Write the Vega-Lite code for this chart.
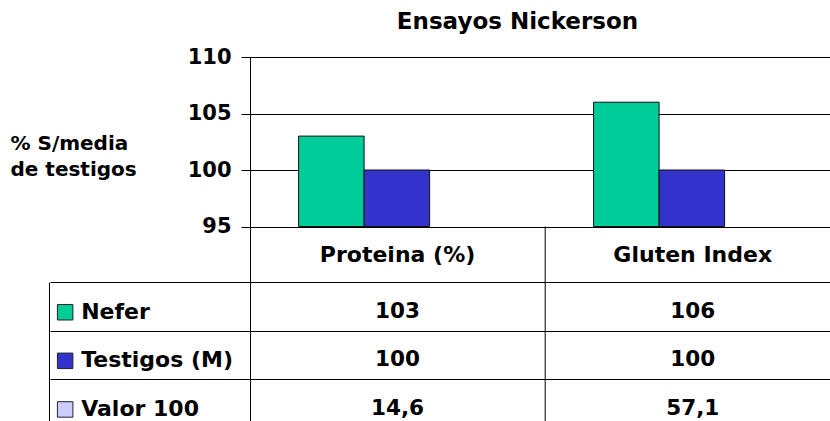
{
  "$schema": "https://vega.github.io/schema/vega-lite/v6.json",
  "width": 580,
  "height": 364,
  "autosize": {"type": "none"},
  "padding": {"left": 250, "top": 57, "right": 0, "bottom": 0},
  "background": "#ffffff",
  "title": {
    "text": "Ensayos Nickerson",
    "font": "DejaVu Sans",
    "fontSize": 23,
    "fontWeight": "bold",
    "color": "#000000",
    "anchor": "middle",
    "frame": "group",
    "dx": -22.5,
    "baseline": "alphabetic",
    "offset": -6
  },
  "config": {
    "view": {"stroke": null},
    "font": "DejaVu Sans",
    "locale": {"number": {"decimal": ",", "thousands": ".", "grouping": [3], "currency": ["", " €"]}}
  },
  "datasets": {
    "valores": [
      {"categoria": "Proteina (%)", "serie": "Nefer", "valor": 103},
      {"categoria": "Proteina (%)", "serie": "Testigos (M)", "valor": 100},
      {"categoria": "Proteina (%)", "serie": "Valor 100", "valor": 14.6},
      {"categoria": "Gluten Index", "serie": "Nefer", "valor": 106},
      {"categoria": "Gluten Index", "serie": "Testigos (M)", "valor": 100},
      {"categoria": "Gluten Index", "serie": "Valor 100", "valor": 57.1}
    ]
  },
  "resolve": {
    "scale": {"x": "independent", "y": "independent"},
    "axis": {"x": "independent", "y": "independent"}
  },
  "layer": [
    {
      "data": {"name": "valores"},
      "transform": [{"filter": "datum.serie !== 'Valor 100'"}],
      "mark": {"type": "bar", "stroke": "#111111", "strokeWidth": 1},
      "encoding": {
        "x": {
          "field": "categoria",
          "type": "nominal",
          "scale": {"domain": ["Proteina (%)", "Gluten Index"], "paddingInner": 0.5559, "paddingOuter": 0.261, "align": 0.3156},
          "axis": null
        },
        "xOffset": {
          "field": "serie",
          "type": "nominal",
          "scale": {"domain": ["Nefer", "Testigos (M)"], "paddingInner": 0, "paddingOuter": 0}
        },
        "y": {
          "field": "valor",
          "type": "quantitative",
          "scale": {"domain": [77.788, 110], "nice": false, "zero": false},
          "axis": {
            "orient": "left",
            "values": [95, 100, 105, 110],
            "grid": true,
            "gridColor": "#000000",
            "gridOpacity": 1,
            "gridWidth": 1,
            "tickSize": 9,
            "tickColor": "#000000",
            "tickWidth": 1,
            "domainColor": "#000000",
            "domainWidth": 1,
            "labelFont": "DejaVu Sans",
            "labelFontWeight": "bold",
            "labelFontSize": 21,
            "labelColor": "#000000",
            "labelPadding": 10,
            "title": ["% S/media", "de testigos"],
            "titleAngle": 0,
            "titleAlign": "left",
            "titleBaseline": "middle",
            "titleFont": "DejaVu Sans",
            "titleFontWeight": "bold",
            "titleFontSize": 20,
            "titleColor": "#000000",
            "titleLineHeight": 25.7,
            "titleX": -240,
            "titleY": 86.4
          }
        },
        "y2": {"datum": 95},
        "fill": {
          "field": "serie",
          "type": "nominal",
          "scale": {"domain": ["Nefer", "Testigos (M)", "Valor 100"], "range": ["#00CC99", "#3333CC", "#CCCCFF"]},
          "legend": null
        }
      }
    },
    {
      "data": {"name": "valores"},
      "layer": [
        {
          "mark": {"type": "text", "font": "DejaVu Sans", "fontWeight": "bold", "fontSize": 21.5, "color": "#000000", "align": "center", "baseline": "middle"},
          "encoding": {
            "x": {
              "field": "categoria",
              "type": "nominal",
              "bandPosition": 0.518,
              "scale": {"domain": ["Proteina (%)", "Gluten Index"], "paddingInner": 0.0352, "paddingOuter": 0, "align": 0},
              "axis": null
            },
            "y": {
              "field": "serie",
              "type": "nominal",
              "bandPosition": 0.714,
              "scale": {"domain": ["_1", "_2", "_3", "header", "Nefer", "Testigos (M)", "Valor 100"], "paddingInner": 0.17, "paddingOuter": 0.33, "align": 0.979},
              "axis": {
                "orient": "left",
                "values": ["Nefer", "Testigos (M)", "Valor 100"],
                "bandPosition": 0,
                "grid": true,
                "gridColor": "#000000",
                "gridOpacity": 1,
                "gridWidth": 1,
                "ticks": true,
                "tickSize": 200,
                "tickColor": "#000000",
                "tickWidth": 1,
                "labels": false,
                "domain": false,
                "title": null
              }
            },
            "text": {"field": "valor", "type": "quantitative", "format": ".4~g"}
          }
        },
        {
          "transform": [{"filter": "datum.serie === 'Nefer'"}],
          "mark": {"type": "text", "font": "DejaVu Sans", "fontWeight": "bold", "fontSize": 22, "color": "#000000", "align": "center", "baseline": "middle"},
          "encoding": {
            "x": {"field": "categoria", "type": "nominal", "bandPosition": 0.518},
            "y": {"datum": "header", "type": "nominal", "bandPosition": 0.528},
            "text": {"field": "categoria", "type": "nominal"}
          }
        },
        {
          "transform": [{"filter": "datum.categoria === 'Proteina (%)'"}],
          "mark": {"type": "text", "font": "DejaVu Sans", "fontWeight": "bold", "fontSize": 22, "color": "#000000", "align": "left", "baseline": "middle"},
          "encoding": {
            "x": {"datum": "Proteina (%)", "type": "nominal", "bandPosition": -0.5927},
            "y": {"field": "serie", "type": "nominal", "bandPosition": 0.714},
            "text": {"field": "serie", "type": "nominal"}
          }
        },
        {
          "transform": [{"filter": "datum.categoria === 'Proteina (%)'"}],
          "mark": {"type": "square", "size": 240, "filled": true, "opacity": 1, "stroke": "#222222", "strokeWidth": 1},
          "encoding": {
            "x": {"datum": "Proteina (%)", "type": "nominal", "bandPosition": -0.649},
            "y": {"field": "serie", "type": "nominal", "bandPosition": 0.73},
            "fill": {
              "field": "serie",
              "type": "nominal",
              "scale": {"domain": ["Nefer", "Testigos (M)", "Valor 100"], "range": ["#00CC99", "#3333CC", "#CCCCFF"]},
              "legend": null
            }
          }
        },
        {
          "transform": [{"filter": "datum.categoria === 'Gluten Index' && datum.serie === 'Nefer'"}],
          "mark": {"type": "rule", "color": "#000000", "strokeWidth": 1},
          "encoding": {
            "x": {"field": "categoria", "type": "nominal", "bandPosition": 0},
            "y": {"datum": "header", "type": "nominal", "bandPosition": -0.191},
            "y2": {"datum": "Valor 100", "bandPosition": 1.5}
          }
        },
        {
          "transform": [{"filter": "datum.categoria === 'Proteina (%)' && datum.serie === 'Nefer'"}],
          "mark": {"type": "rule", "color": "#000000", "strokeWidth": 1},
          "encoding": {
            "x": {"datum": "Proteina (%)", "type": "nominal", "bandPosition": -0.704},
            "y": {"datum": "Nefer", "type": "nominal", "bandPosition": 0},
            "y2": {"datum": "Valor 100", "bandPosition": 1.5}
          }
        }
      ]
    }
  ]
}
